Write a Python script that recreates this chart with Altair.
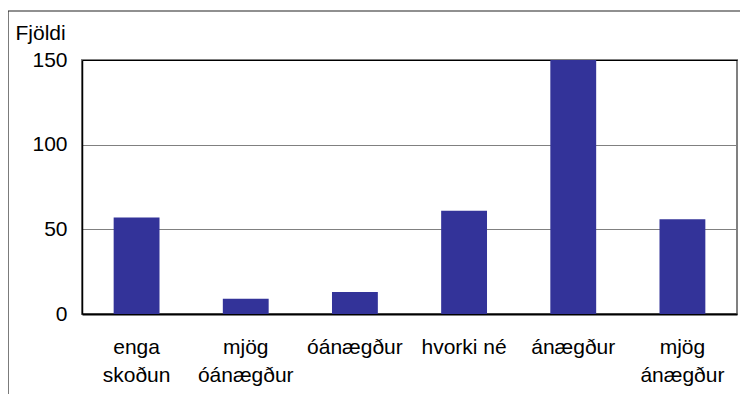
import altair as alt
import pandas as pd

categories = ["enga\nskoðun", "mjög\nóánægður", "óánægður", "hvorki né", "ánægður", "mjög\nánægður"]
values = [57, 9, 13, 61, 150, 56]
y_ticks = [0, 50, 100, 150]

df = pd.DataFrame({"cat": categories, "val": values})

FONT = "Liberation Sans"
FS = 21

bars = alt.Chart(df).mark_bar(color="#333399").encode(
    x=alt.X(
        "cat:N",
        sort=categories,
        scale=alt.Scale(paddingInner=0.58, paddingOuter=0.29),
        axis=alt.Axis(
            title=None,
            labelAngle=0,
            labelExpr="split(datum.value, '\\n')",
            labelFont=FONT,
            labelFontSize=FS,
            labelColor="#000000",
            labelLineHeight=28,
            labelPadding=22,
            labelBaseline="top",
            ticks=False,
            domainColor="#000000",
            domainWidth=2,
            grid=False,
        ),
    ),
    y=alt.Y(
        "val:Q",
        scale=alt.Scale(domain=[0, 150], nice=False),
        axis=alt.Axis(
            values=y_ticks,
            title="Fjöldi",
            titleAngle=0,
            titleFont=FONT,
            titleFontSize=FS,
            titleFontWeight="normal",
            titleColor="#000000",
            titleAlign="left",
            titleBaseline="alphabetic",
            titleX=-67,
            titleY=-21,
            labelFont=FONT,
            labelFontSize=FS,
            labelColor="#000000",
            labelPadding=15,
            ticks=False,
            domainColor="#000000",
            domainWidth=1.5,
            grid=True,
            gridColor={"condition": {"test": "datum.value == 150", "value": "#000000"}, "value": "#808080"},
            gridWidth=1.2,
        ),
    ),
)

frame = pd.DataFrame({"a": [0]})
left_border = alt.Chart(frame).mark_rule(color="#222222", strokeWidth=1.2).encode(
    x=alt.value(-74), y=alt.value(-49), y2=alt.value(334)
)
top_border = alt.Chart(frame).mark_rule(color="#222222", strokeWidth=1.2).encode(
    x=alt.value(-74), x2=alt.value(658), y=alt.value(-49)
)

chart = alt.layer(bars, left_border, top_border).properties(
    width=655,
    height=254,
    autosize=alt.AutoSizeParams(type="none"),
    padding={"left": 74, "top": 52, "right": 3, "bottom": 80},
    background="#ffffff",
).configure_view(
    stroke="#808080", strokeWidth=2
)

chart.save("out.html", embed_options={"renderer": "svg", "actions": False})
